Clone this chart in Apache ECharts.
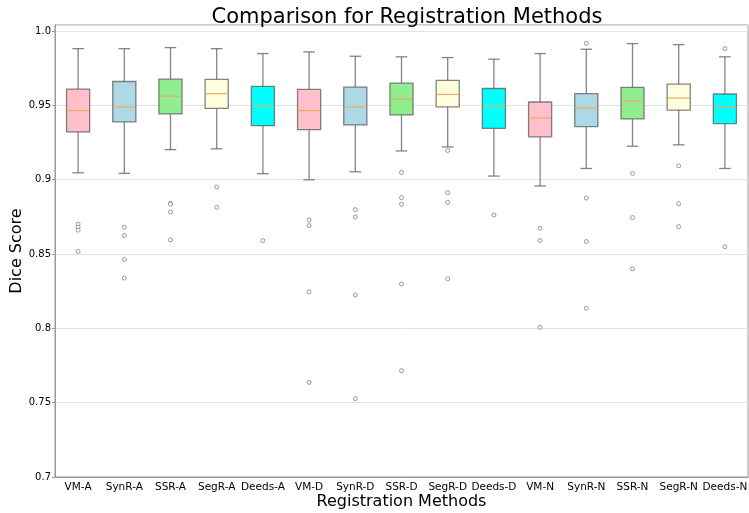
<!DOCTYPE html>
<html>
<head>
<meta charset="utf-8">
<script src="https://cdn.jsdelivr.net/npm/echarts@6/dist/echarts.min.js"></script>
<style>html,body{margin:0;padding:0;background:#fff}#c{width:749px;height:513px}</style>
</head>
<body>
<div id="c"></div>
<script>
const categories = ['VM-A','SynR-A','SSR-A','SegR-A','Deeds-A','VM-D','SynR-D','SSR-D','SegR-D','Deeds-D','VM-N','SynR-N','SSR-N','SegR-N','Deeds-N'];
const whiskerLow  = [0.9046,0.9042,0.9202,0.9207,0.9040,0.8999,0.9053,0.9193,0.9220,0.9024,0.8957,0.9075,0.9225,0.9234,0.9075];
const q1          = [0.9321,0.9388,0.9442,0.9479,0.9363,0.9336,0.9368,0.9435,0.9489,0.9345,0.9288,0.9357,0.9408,0.9468,0.9377];
const medians     = [0.9464,0.9489,0.9562,0.9578,0.9495,0.9464,0.9489,0.9542,0.9573,0.9495,0.9415,0.9482,0.9529,0.9549,0.9489];
const q3          = [0.9609,0.9660,0.9676,0.9674,0.9627,0.9607,0.9622,0.9649,0.9667,0.9613,0.9522,0.9578,0.9620,0.9643,0.9576];
const whiskerHigh = [0.9881,0.9881,0.9888,0.9881,0.9848,0.9859,0.9830,0.9826,0.9821,0.9810,0.9848,0.9877,0.9915,0.9908,0.9826];
const outliers = [
  [0.8700,0.8680,0.8660,0.8517],
  [0.8680,0.8624,0.8463,0.8338],
  [0.8840,0.8836,0.8782,0.8595],
  [0.8950,0.8814],
  [0.8590],
  [0.8729,0.8691,0.8246,0.7636],
  [0.8798,0.8749,0.8224,0.7527],
  [0.9048,0.8879,0.8834,0.8298,0.7715],
  [0.9196,0.8912,0.8847,0.8333],
  [0.8762],
  [0.8673,0.8590,0.8007],
  [0.9917,0.8876,0.8584,0.8135],
  [0.9042,0.8745,0.8400],
  [0.9093,0.8838,0.8684],
  [0.9881,0.8548]
];
const yTicks = [0.7,0.75,0.8,0.85,0.9,0.95,1.0];
const boxColors = ['#ffc0cb','#add8e6','#90ee90','#ffffe0','#00ffff'];

const FONT = 'DejaVu Sans';
const boxData = categories.map((c,i)=>[i, whiskerLow[i], q1[i], medians[i], q3[i], whiskerHigh[i]]);
const outlierData = [];
outliers.forEach((arr,i)=>arr.forEach(v=>outlierData.push([i, v])));

function renderBox(params, api){
  const i = api.value(0);
  const lo = api.coord([i, api.value(1)]);
  const b1 = api.coord([i, api.value(2)]);
  const md = api.coord([i, api.value(3)]);
  const b3 = api.coord([i, api.value(4)]);
  const hi = api.coord([i, api.value(5)]);
  const bw = api.size([1,0])[0]*0.5;
  const cw = bw*0.5;
  const x = lo[0];
  const wStyle = {stroke:'rgba(110,110,110,0.85)', lineWidth:1.3};
  return {
    type:'group',
    children:[
      {type:'line', shape:{x1:x,y1:hi[1],x2:x,y2:b3[1]}, style:wStyle},
      {type:'line', shape:{x1:x,y1:b1[1],x2:x,y2:lo[1]}, style:wStyle},
      {type:'line', shape:{x1:x-cw/2,y1:hi[1],x2:x+cw/2,y2:hi[1]}, style:wStyle},
      {type:'line', shape:{x1:x-cw/2,y1:lo[1],x2:x+cw/2,y2:lo[1]}, style:wStyle},
      {type:'rect', shape:{x:x-bw/2,y:b3[1],width:bw,height:b1[1]-b3[1]},
        style:{fill:boxColors[i%5], stroke:'rgba(90,90,90,0.75)', lineWidth:1.3}},
      {type:'line', shape:{x1:x-bw/2+0.7,y1:md[1],x2:x+bw/2-0.7,y2:md[1]}, style:{stroke:'#f5a856', lineWidth:1.2}}
    ]
  };
}

const chart = echarts.init(document.getElementById('c'), null, {renderer:'canvas'});
chart.setOption({
  animation:false,
  backgroundColor:'#fff',
  title:{text:'Comparison for Registration Methods', left:402, textAlign:'center', top:2,
    textStyle:{fontFamily:FONT, fontSize:21, fontWeight:'normal', color:'#000'}},
  grid:{left:55, right:1, top:25, bottom:36, show:true, borderColor:'#999', borderWidth:1,
    containLabel:false, outerBoundsMode:'none'},
  xAxis:{type:'category', data:categories, boundaryGap:true,
    axisLine:{show:true, lineStyle:{color:'#999'}}, axisTick:{show:false},
    axisLabel:{interval:0, fontFamily:FONT, fontSize:10.5, color:'#000', margin:5},
    splitLine:{show:false},
    name:'Registration Methods', nameLocation:'middle', nameGap:17, nameMoveOverlap:false,
    nameTextStyle:{fontFamily:FONT, fontSize:16, color:'#000', verticalAlign:'top'}},
  yAxis:{type:'value', min:0.7, max:1.004, interval:0.05,
    axisLine:{show:true, lineStyle:{color:'#999'}},
    axisTick:{show:true, length:3, lineStyle:{color:'#999'}},
    axisLabel:{fontFamily:FONT, fontSize:10, color:'#000', margin:4, showMaxLabel:false,
      formatter:function(v){
        for (const t of yTicks){ if (Math.abs(v-t)<1e-6) return t===1 ? '1.0' : String(t); }
        return '';
      }},
    splitLine:{show:true, lineStyle:{color:'#e3e3e3', width:1}},
    name:'Dice Score', nameLocation:'middle', nameGap:30, nameMoveOverlap:false,
    nameTextStyle:{fontFamily:FONT, fontSize:16, color:'#000'}},
  series:[
    {type:'custom', renderItem:renderBox, data:boxData, encode:{x:0, y:[1,2,3,4,5]}, z:2},
    {type:'scatter', data:outlierData, symbol:'circle', symbolSize:4,
      itemStyle:{color:'#fff', borderColor:'#808080', borderWidth:0.8, opacity:1}, z:3}
  ]
});
</script>
</body>
</html>
